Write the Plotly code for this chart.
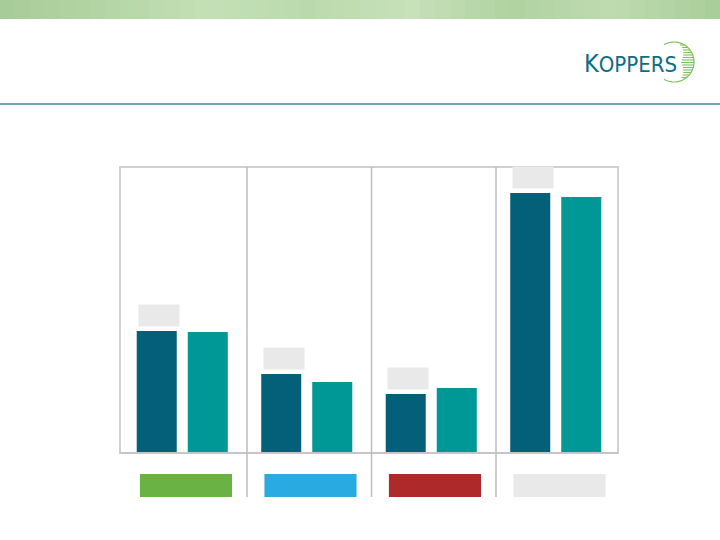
import numpy as np
import plotly.graph_objects as go

# ---------------- data ----------------
categories = ["A", "B", "C", "D"]
series_prev = [122, 79, 59, 260]   # dark bars
series_curr = [121, 71, 65, 256]   # teal bars
band_colors = ["#6bb245", "#29abe2", "#ae2a2a", "#e9e9e9"]

W, H = 720, 540
L, R, T, B = 120, 618, 167, 453  # plot area in pixels


def px(xp):
    return (xp - L) / (R - L)


def py(yp):
    return (B - yp) / (B - T)


fig = go.Figure()
fig.add_trace(go.Bar(x=categories, y=series_prev, marker=dict(color="#045f79", line=dict(width=0)),
                     showlegend=False, hoverinfo="skip"))
fig.add_trace(go.Bar(x=categories, y=series_curr, marker=dict(color="#009896", line=dict(width=0)),
                     showlegend=False, hoverinfo="skip"))

shapes = []
annotations = []

# top banner (soft green texture)
key_cols = [(168, 204, 153), (180, 214, 165), (196, 224, 183), (186, 218, 172), (199, 225, 186),
            (176, 210, 160), (190, 219, 176), (170, 206, 154)]
nseg = 48
for i in range(nseg):
    t = i / (nseg - 1) * (len(key_cols) - 1)
    k = min(int(t), len(key_cols) - 2)
    f = t - k
    c = tuple(int(round(key_cols[k][j] * (1 - f) + key_cols[k + 1][j] * f)) for j in range(3))
    shapes.append(dict(type="rect", xref="paper", yref="paper",
                       x0=px(i * W / nseg), x1=px((i + 1) * W / nseg + 0.5), y0=py(19), y1=py(0),
                       fillcolor="rgb(%d,%d,%d)" % c, line=dict(width=0), layer="below"))
# separator line
shapes.append(dict(type="line", xref="paper", yref="paper", x0=px(0), x1=px(W), y0=py(104), y1=py(104),
                   line=dict(color="#6fa9b9", width=2)))

# plot frame
shapes.append(dict(type="rect", xref="paper", yref="paper", x0=0, x1=1, y0=0, y1=1,
                   line=dict(color="#d0d0d0", width=2), layer="below"))
shapes.append(dict(type="line", xref="paper", yref="paper", x0=0, x1=1, y0=0, y1=0,
                   line=dict(color="#c6c6c6", width=2)))

# dividers
for i in range(len(categories) - 1):
    xd = i + 0.5 + 0.02
    shapes.append(dict(type="line", xref="x", yref="paper", x0=xd, x1=xd, y0=py(497), y1=1,
                       line=dict(color="#bdbdbd", width=1.5)))

# bottom colour bands
for i, c in enumerate(band_colors):
    shapes.append(dict(type="rect", xref="x", yref="paper", x0=i - 0.34, x1=i + 0.40,
                       y0=py(497), y1=py(474), fillcolor=c, line=dict(width=0)))

# empty grey label boxes above dark bars
for i, v in enumerate(series_prev):
    annotations.append(dict(x=categories[i], y=v, xref="x", yref="y", text=" ", showarrow=False,
                            xshift=-23, yshift=4, yanchor="bottom", width=40, height=21,
                            bgcolor="#e9e9e9", borderpad=0))

# logo
logo_font = dict(family="Liberation Sans Narrow, DejaVu Sans Condensed, Liberation Sans, sans-serif",
                 size=22, color="#0e6d84")
logo = dict(x=px(582), y=py(64), xref="paper", yref="paper", xanchor="left", yanchor="middle",
            text="<span style='font-size:25px'>K</span>OPPERS", showarrow=False, font=logo_font)
annotations.append(logo)

cx, cy, r = 674, 62, 20
ang = np.linspace(np.radians(-120), np.radians(120), 60)
pts = [(cx + r * np.cos(a), cy - r * np.sin(a)) for a in ang]
path = "M " + " L ".join(f"{px(x):.5f},{py(y):.5f}" for x, y in pts)
shapes.append(dict(type="path", xref="paper", yref="paper", path=path, line=dict(color="#7cc35a", width=1.2)))
for yy in np.arange(cy - r + 3, cy + r - 2, 2.5):
    dy = yy - cy
    xr = cx + np.sqrt(max(r * r - dy * dy, 0))
    ln = 3 + 10 * (1 - abs(dy) / r)
    shapes.append(dict(type="line", xref="paper", yref="paper", x0=px(xr - ln), x1=px(xr), y0=py(yy), y1=py(yy),
                       line=dict(color="#79c257", width=1.1)))

fig.update_layout(
    width=W, height=H,
    margin=dict(l=L, r=W - R, t=T, b=H - B, pad=0),
    paper_bgcolor="white", plot_bgcolor="white",
    barmode="group", bargap=0.18, bargroupgap=0.216,
    xaxis=dict(showticklabels=False, showgrid=False, zeroline=False, showline=False, ticks="",
               range=[-0.5, 3.5], fixedrange=True),
    yaxis=dict(showticklabels=False, showgrid=False, zeroline=False, showline=False, ticks="",
               range=[0, 286], fixedrange=True),
    shapes=shapes, annotations=annotations, showlegend=False,
)

fig.write_html("out.html", config={"displayModeBar": False})
